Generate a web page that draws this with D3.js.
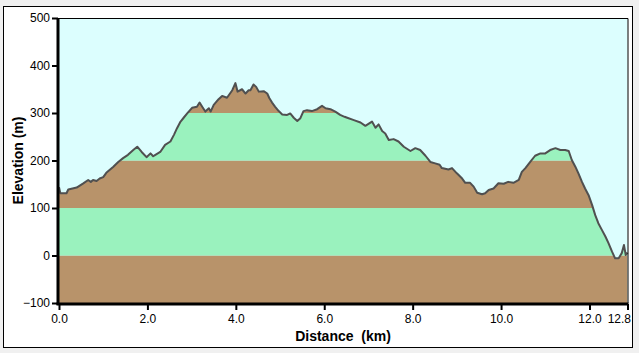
<!DOCTYPE html>
<html><head><meta charset="utf-8">
<script src="https://cdn.jsdelivr.net/npm/d3@7"></script>
<style>html,body{margin:0;padding:0;background:#f0f0f0;}svg{display:block;}</style>
</head><body><svg id="c" width="639" height="353"></svg>
<script>
const distanceKm = [0,0.03,0.17,0.21,0.40,0.55,0.66,0.72,0.77,0.85,0.92,1.00,1.07,1.23,1.34,1.45,1.56,1.68,1.77,1.87,1.98,2.07,2.13,2.18,2.29,2.40,2.52,2.60,2.67,2.75,2.82,2.90,3.01,3.12,3.18,3.24,3.31,3.39,3.43,3.50,3.61,3.69,3.80,3.92,3.99,4.04,4.14,4.22,4.29,4.33,4.40,4.46,4.52,4.63,4.71,4.76,4.82,4.89,4.97,5.05,5.16,5.23,5.31,5.39,5.46,5.53,5.61,5.72,5.84,5.95,6.03,6.14,6.25,6.36,6.46,6.52,6.67,6.82,6.93,7.08,7.16,7.23,7.31,7.38,7.46,7.57,7.68,7.80,7.95,8.06,8.17,8.29,8.40,8.51,8.61,8.66,8.81,8.89,9.00,9.12,9.19,9.30,9.38,9.46,9.57,9.64,9.72,9.83,9.94,10.06,10.16,10.28,10.40,10.47,10.55,10.66,10.77,10.89,11.00,11.11,11.23,11.34,11.45,11.53,11.60,11.68,11.75,11.83,11.90,11.98,12.06,12.13,12.20,12.28,12.36,12.43,12.51,12.58,12.66,12.73,12.78,12.82,12.86];
const elevationM = [144,131,131,139,143,152,159,155,159,157,162,165,174,187,197,205,212,222,229,218,207,215,209,212,218,233,240,254,268,282,290,299,311,313,322,313,303,310,303,317,329,336,332,348,363,345,350,341,348,348,360,355,345,346,341,331,322,313,304,297,296,299,290,283,289,304,306,304,308,315,310,308,303,296,292,290,285,280,273,282,269,276,262,257,243,245,240,229,220,226,222,210,197,194,191,184,181,184,173,162,153,153,145,132,129,131,138,141,152,151,155,153,159,176,184,197,210,215,215,222,226,222,222,220,201,187,173,155,141,127,106,85,68,54,40,26,8,-6,-6,5,22,1,6];
const xTicks = [0,2,4,6,8,10,12,12.86];
const xTickLabels = ["0.0","2.0","4.0","6.0","8.0","10.0","12.0","12.8"];
const yTicks = [-100,0,100,200,300,400,500];
const bandEdges = [-100,0,100,200,300,400,500];
const bandColors = ["#b8936a","#9af2be","#b8936a","#9af2be","#b8936a","#9af2be"];

const svg = d3.select("#c");
svg.append("rect").attr("x",3.5).attr("y",6.5).attr("width",629).attr("height",341)
  .attr("fill","#fff").attr("stroke","#000").attr("stroke-width",1);

const x = d3.scaleLinear().domain([0,12.86]).range([59,627.5]);
const y = d3.scaleLinear().domain([-100,500]).range([303,18]);

const data = distanceKm.map((d,i)=>({d, e:elevationM[i]}));

svg.append("rect").attr("x",x(0)).attr("y",y(500)).attr("width",x(12.86)-x(0)).attr("height",y(-100)-y(500)).attr("fill","#dcfefe");

const area = d3.area().x(p=>x(p.d)).y0(y(-100)).y1(p=>y(p.e));
svg.append("clipPath").attr("id","under").append("path").attr("d",area(data));

const bands = svg.append("g").attr("clip-path","url(#under)");
bands.selectAll("rect").data(bandColors).join("rect")
  .attr("x",x(0)).attr("width",x(12.86)-x(0))
  .attr("y",(c,i)=>y(bandEdges[i+1])).attr("height",(c,i)=>y(bandEdges[i])-y(bandEdges[i+1]))
  .attr("fill",c=>c);

svg.append("path").datum(data).attr("d",d3.line().x(p=>x(p.d)).y(p=>y(p.e)))
  .attr("fill","none").attr("stroke","#505050").attr("stroke-width",2).attr("stroke-linejoin","round");

// plot frame top/right
svg.append("path").attr("d",`M${x(0)},${y(500)+0.5}H${x(12.86)+0.5}V${y(-100)}`).attr("fill","none").attr("stroke","#000").attr("stroke-width",1);

const font = "'Liberation Sans', Arial, sans-serif";
const yAxis = svg.append("g").attr("transform",`translate(${x(0)-1},0)`)
  .call(d3.axisLeft(y).tickValues(yTicks).tickSize(6).tickPadding(2).tickFormat(d3.format("d")));
const xAxis = svg.append("g").attr("transform",`translate(0,${y(-100)+1})`)
  .call(d3.axisBottom(x).tickValues(xTicks).tickSize(6).tickPadding(4).tickFormat((d,i)=>xTickLabels[i]));
[yAxis,xAxis].forEach(a=>{
  a.select(".domain").attr("stroke","#000").attr("stroke-width",3);
  a.selectAll(".tick line").attr("stroke","#000").attr("stroke-width",2);
  a.selectAll("text").attr("fill","#000").style("font-family",font).style("font-size","12px");
});
yAxis.select(".domain").attr("d",`M0,${y(500)}V${y(-100)+2}`);
xAxis.select(".domain").attr("d",`M${x(0)-2.5},0H${x(12.86)+1}`);
xAxis.selectAll(".tick").filter(d=>d===12.86).select("text").attr("text-anchor","end").attr("dx","3");

svg.append("text").attr("x",343).attr("y",341).attr("text-anchor","middle")
  .style("font-family",font).style("font-size","14px").style("font-weight","bold").style("white-space","pre")
  .text("Distance  (km)");
svg.append("text").attr("transform",`translate(23,${(y(500)+y(-100))/2}) rotate(-90)`).attr("text-anchor","middle")
  .style("font-family",font).style("font-size","14px").style("font-weight","bold")
  .text("Elevation (m)");
</script></body></html>
